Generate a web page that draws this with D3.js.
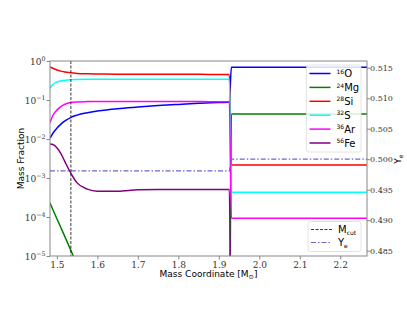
<!DOCTYPE html>
<html>
<head>
<meta charset="utf-8">
<script src="https://cdn.jsdelivr.net/npm/d3@7"></script>
<style>
  body { margin: 0; background: #fff; }
  svg { display: block; }
  .tick-serif { font-family: "DejaVu Serif", "Liberation Serif", serif; fill: #333; }
  .sans { font-family: "DejaVu Sans", "Noto Sans", sans-serif; fill: #000; }
</style>
</head>
<body>
<svg id="chart"></svg>
<script>
// chart size
const width = 407;
const height = 315;
const margin = {top: 61, right: 40, bottom: 59, left: 50};

// mass coordinate grid [M_sun]
const mass = [1.483, 1.49, 1.50, 1.51, 1.52, 1.535, 1.55, 1.575, 1.60, 1.65, 1.70, 1.75, 1.80, 1.85, 1.90, 1.926, 1.931, 2.266];

// mass fractions per species
const o16  = [0.0105, 0.014, 0.019, 0.024, 0.029, 0.036, 0.041, 0.047, 0.052, 0.060, 0.066, 0.072, 0.077, 0.082, 0.086, 0.087, 0.69, 0.69];
const mg24 = [2.3e-4, 1.55e-4, 9e-5, 5.3e-5, 3.1e-5, 1.35e-5, 6e-6, 1.8e-6, 5e-7, 6e-8, 1e-8, 1e-8, 1e-8, 1e-8, 1e-8, 1e-8, 0.044, 0.044];
const si28 = [0.71, 0.65, 0.59, 0.55, 0.52, 0.50, 0.48, 0.47, 0.465, 0.46, 0.46, 0.455, 0.455, 0.455, 0.45, 0.45, 0.00215, 0.00215];
const s32  = [0.20, 0.25, 0.29, 0.31, 0.32, 0.33, 0.335, 0.34, 0.34, 0.34, 0.34, 0.34, 0.34, 0.34, 0.34, 0.34, 4.3e-4, 4.3e-4];
const ar36 = [0.026, 0.040, 0.055, 0.068, 0.078, 0.086, 0.089, 0.091, 0.092, 0.092, 0.092, 0.091, 0.091, 0.091, 0.090, 0.090, 9.3e-5, 9.3e-5];
const fe56 = [0.0074, 0.0072, 0.0060, 0.0042, 0.0026, 0.0013, 0.00075, 0.00052, 0.00046, 0.00046, 0.00050, 0.00051, 0.00051, 0.00051, 0.00051, 0.00051, 1e-8, 1e-8];

// electron fraction
const ye = [0.4981, 0.4981, 0.4981, 0.4981, 0.4981, 0.4981, 0.4981, 0.4981, 0.4981, 0.4981, 0.4981, 0.4981, 0.4981, 0.4981, 0.4981, 0.4981, 0.5000, 0.5000];

const mCut = 1.5346;

const species = [
  {name: "16", el: "O",  values: o16,  color: "#0000ff"},
  {name: "24", el: "Mg", values: mg24, color: "#008000"},
  {name: "28", el: "Si", values: si28, color: "#ff0000"},
  {name: "32", el: "S",  values: s32,  color: "#00ffff"},
  {name: "36", el: "Ar", values: ar36, color: "#ff00ff"},
  {name: "56", el: "Fe", values: fe56, color: "#800080"}
];

const xTicks = [1.5, 1.6, 1.7, 1.8, 1.9, 2.0, 2.1, 2.2];
const yTicks = [1, 1e-1, 1e-2, 1e-3, 1e-4, 1e-5];
const yeTicks = [0.485, 0.490, 0.495, 0.500, 0.505, 0.510, 0.515];

const svg = d3.select("#chart").attr("width", width).attr("height", height);

const x = d3.scaleLinear().domain([1.483, 2.266]).range([margin.left, width - margin.right]);
const y = d3.scaleLog().domain([1e-5, 1]).range([height - margin.bottom, margin.top]);
const yR = d3.scaleLinear().domain([0.48413, 0.5161]).range([height - margin.bottom, margin.top]);

svg.append("clipPath").attr("id", "clip")
  .append("rect")
  .attr("x", margin.left).attr("y", margin.top)
  .attr("width", width - margin.left - margin.right)
  .attr("height", height - margin.top - margin.bottom);

const plot = svg.append("g").attr("clip-path", "url(#clip)");

// species lines
species.forEach(s => {
  const line = d3.line()
    .x((d, i) => x(mass[i]))
    .y(d => y(d))
    .curve(d3.curveMonotoneX);
  plot.append("path")
    .datum(s.values)
    .attr("d", line)
    .attr("fill", "none")
    .attr("stroke", s.color)
    .attr("stroke-width", 1.5);
});

// Ye line
plot.append("path")
  .datum(ye)
  .attr("d", d3.line().x((d, i) => x(mass[i])).y(d => yR(d)))
  .attr("fill", "none")
  .attr("stroke", "#6a6acd")
  .attr("stroke-width", 1.2)
  .attr("stroke-dasharray", "5,2,1.5,2");

// M_cut line
plot.append("line")
  .attr("x1", x(mCut)).attr("x2", x(mCut))
  .attr("y1", margin.top).attr("y2", height - margin.bottom)
  .attr("stroke", "#222")
  .attr("stroke-width", 0.9)
  .attr("stroke-dasharray", "3,1.5");

// frame
svg.append("rect")
  .attr("x", margin.left).attr("y", margin.top)
  .attr("width", width - margin.left - margin.right)
  .attr("height", height - margin.top - margin.bottom)
  .attr("fill", "none").attr("stroke", "#888").attr("stroke-width", 1);

// x axis
const xAxis = svg.append("g")
  .attr("transform", `translate(0,${height - margin.bottom})`)
  .call(d3.axisBottom(x).tickValues(xTicks).tickSize(3.5).tickPadding(2).tickFormat(d3.format(".1f")));
xAxis.select(".domain").remove();
xAxis.selectAll("line").attr("stroke", "#888");
xAxis.selectAll("text").attr("class", "tick-serif").attr("font-size", 9);

// left log axis
const yAxis = svg.append("g")
  .attr("transform", `translate(${margin.left},0)`)
  .call(d3.axisLeft(y).tickValues(yTicks).tickSize(3.5).tickFormat(""));
yAxis.select(".domain").remove();
yAxis.selectAll("line").attr("stroke", "#888");
yAxis.selectAll(".tick").each(function(d) {
  const e = Math.round(Math.log10(d));
  const t = d3.select(this).append("text")
    .attr("class", "tick-serif")
    .attr("x", -4.5).attr("y", 3.5)
    .attr("text-anchor", "end")
    .attr("font-size", 9);
  t.append("tspan").text("10");
  t.append("tspan").attr("font-size", 6.3).attr("dy", -4)
    .text(e === 0 ? "0" : "\u2212" + (-e));
});

// right Ye axis
const rAxis = svg.append("g")
  .attr("transform", `translate(${width - margin.right},0)`)
  .call(d3.axisRight(yR).tickValues(yeTicks).tickSize(3).tickFormat(d3.format(".3f")));
rAxis.select(".domain").remove();
rAxis.selectAll("line").attr("stroke", "#888");
rAxis.selectAll("text").attr("class", "tick-serif").attr("font-size", 8).attr("x", 3);

// axis titles
svg.append("text")
  .attr("class", "sans")
  .attr("font-size", 9)
  .attr("transform", `translate(24,${(margin.top + height - margin.bottom) / 2}) rotate(-90)`)
  .attr("text-anchor", "middle")
  .text("Mass Fraction");

const xt = svg.append("text")
  .attr("class", "sans")
  .attr("font-size", 9)
  .attr("x", (margin.left + width - margin.right) / 2)
  .attr("y", 277)
  .attr("text-anchor", "middle");
xt.append("tspan").text("Mass Coordinate [M");
xt.append("tspan").attr("font-size", 6.3).attr("dy", 2).text("\u2299");
xt.append("tspan").attr("dy", -2).text("]");

const yt = svg.append("text")
  .attr("class", "sans")
  .attr("font-size", 9)
  .attr("transform", `translate(401,${yR(0.5)}) rotate(-90)`)
  .attr("text-anchor", "middle");
yt.append("tspan").text("Y");
yt.append("tspan").attr("font-size", 6).attr("dy", 2).text("e");

// species legend
const lg = svg.append("g").attr("transform", "translate(306.5,65)");
lg.append("rect")
  .attr("width", 54.5).attr("height", 87).attr("rx", 2.5)
  .attr("fill", "#fff").attr("fill-opacity", 0.85)
  .attr("stroke", "#ddd").attr("stroke-width", 0.8);
species.forEach((s, i) => {
  const yy = 8.5 + i * 13.9;
  lg.append("line")
    .attr("x1", 3).attr("x2", 24).attr("y1", yy).attr("y2", yy)
    .attr("stroke", s.color).attr("stroke-width", 1.5);
  const t = lg.append("text").attr("class", "sans").attr("x", 30).attr("y", yy + 3.6).attr("font-size", 10);
  t.append("tspan").attr("font-size", 6).attr("dy", -3.5).text(s.name);
  t.append("tspan").attr("dy", 3.5).text(s.el);
});

// Mcut / Ye legend
const lg2 = svg.append("g").attr("transform", "translate(308,221.5)");
lg2.append("rect")
  .attr("width", 53).attr("height", 30).attr("rx", 2.5)
  .attr("fill", "#fff").attr("fill-opacity", 0.85)
  .attr("stroke", "#ddd").attr("stroke-width", 0.8);
lg2.append("line")
  .attr("x1", 3).attr("x2", 24).attr("y1", 8).attr("y2", 8)
  .attr("stroke", "#222").attr("stroke-width", 0.9).attr("stroke-dasharray", "3,1.5");
lg2.append("line")
  .attr("x1", 3).attr("x2", 24).attr("y1", 21).attr("y2", 21)
  .attr("stroke", "#6a6acd").attr("stroke-width", 1.2).attr("stroke-dasharray", "5,2,1.5,2");
const m1 = lg2.append("text").attr("class", "sans").attr("x", 30).attr("y", 11.5).attr("font-size", 10);
m1.append("tspan").text("M");
m1.append("tspan").attr("font-size", 6).attr("dy", 2).text("cut");
const m2 = lg2.append("text").attr("class", "sans").attr("x", 30).attr("y", 24.5).attr("font-size", 10);
m2.append("tspan").text("Y");
m2.append("tspan").attr("font-size", 6).attr("dy", 2).text("e");
</script>
</body>
</html>
